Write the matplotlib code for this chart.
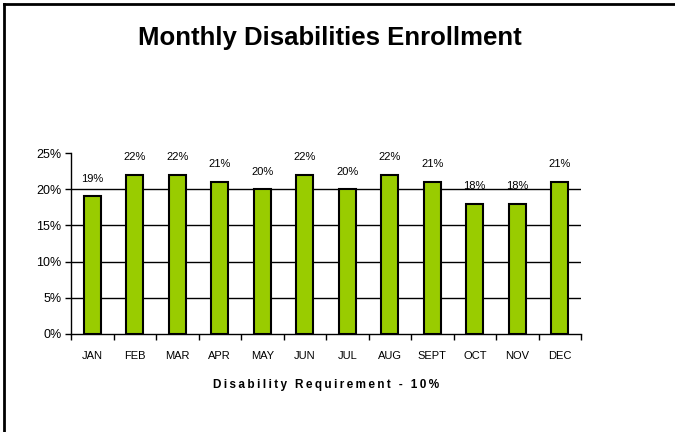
import matplotlib
matplotlib.use("Agg")
import matplotlib.pyplot as plt
from matplotlib.lines import Line2D
from matplotlib.ticker import FixedLocator

plt.rcParams['font.family'] = ['Liberation Sans', 'DejaVu Sans']

months = ["JAN", "FEB", "MAR", "APR", "MAY", "JUN", "JUL", "AUG", "SEPT", "OCT", "NOV", "DEC"]
enrollment = [19, 22, 22, 21, 20, 22, 20, 22, 21, 18, 18, 21]
yticks = [0, 5, 10, 15, 20, 25]
title = "Monthly Disabilities Enrollment"
xlabel = "Disability Requirement - 10%"

fig = plt.figure(figsize=(6.75, 4.32), dpi=100)
ax = fig.add_axes([71/675, 1-334/432, (581-71)/675, (334-153)/432])

x = list(range(len(months)))
ax.bar(x, enrollment, width=0.4, color="#99CC00", edgecolor="black", linewidth=1.5, zorder=3)
for xi, v in zip(x, enrollment):
    ax.annotate(f"{v}%", (xi, v), xytext=(0, 9), textcoords="offset points",
                ha="center", va="bottom", fontsize=8, zorder=4)

ax.set_xlim(-0.5, len(months) - 0.5)
ax.set_ylim(0, 25)
ax.set_yticks(yticks)
ax.set_yticklabels([f"{t}%" for t in yticks], fontsize=9)
for t in yticks[1:-1]:
    ax.axhline(t, color="black", linewidth=1, zorder=1)

ax.set_xticks(x)
ax.set_xticklabels(months, fontsize=8)
ax.tick_params(axis="x", which="major", length=0, pad=12)
ax.xaxis.set_minor_locator(FixedLocator([i - 0.5 for i in range(len(months) + 1)]))
ax.tick_params(axis="x", which="minor", length=4, direction="out", width=1)
ax.tick_params(axis="y", length=4, direction="out", width=1, pad=3)

for s in ["top", "right"]:
    ax.spines[s].set_visible(False)
ax.spines["left"].set_linewidth(1)
ax.spines["bottom"].set_linewidth(1)

spaced = "\u2009".join(list(xlabel))
ax.set_xlabel(spaced, fontsize=8.5, fontweight="bold", labelpad=13)

fig.text(330/675, 1-38/432, title, ha="center", va="center", fontsize=18.5, fontweight="bold")

fig.add_artist(Line2D([4/675, 4/675], [0, 1-4/432], transform=fig.transFigure, color="black", linewidth=2))
fig.add_artist(Line2D([4/675, 1], [1-4/432, 1-4/432], transform=fig.transFigure, color="black", linewidth=2))

fig.savefig("out.png", dpi=100)
